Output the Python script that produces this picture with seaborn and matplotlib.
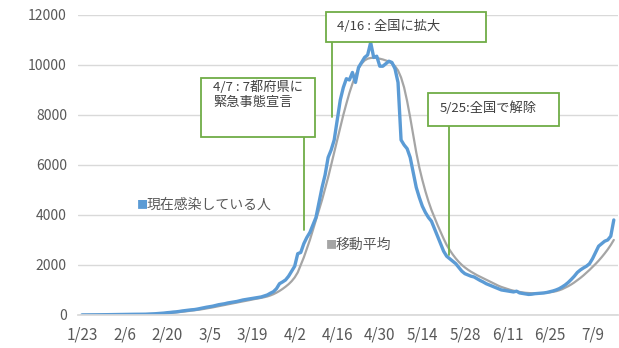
import numpy as np
import pandas as pd
import matplotlib.pyplot as plt
import seaborn as sns
from matplotlib.patches import Rectangle

# ==============================
# Data (daily from 1/23)
# ==============================
active = [
    1, 1, 2, 3, 4, 5, 7, 8, 11, 12, 14, 15, 17, 20,
    22, 23, 24, 26, 26, 27, 28, 30, 35, 40, 47, 55, 64, 75,
    90, 100, 115, 125, 140, 160, 175, 190, 205, 215, 235, 260, 285, 310,
    330, 350, 380, 410, 430, 450, 480, 500, 520, 540, 570, 600, 620, 640,
    660, 680, 700, 720, 760, 800, 870, 930, 1050, 1250, 1320, 1400, 1550, 1750,
    1950, 2450, 2500, 2850, 3100, 3300, 3600, 3900, 4500, 5100, 5600, 6300, 6600, 7000,
    7800, 8600, 9100, 9450, 9400, 9700, 9300, 9900, 10100, 10300, 10400, 10900, 10300, 10350,
    9950, 9950, 10050, 10150, 10100, 9850, 9300, 7000, 6800, 6650, 6300, 5700, 5100, 4700,
    4350, 4100, 3900, 3750, 3450, 3150, 2850, 2550, 2350, 2250, 2150, 2050, 1900, 1750,
    1650, 1600, 1550, 1520, 1450, 1380, 1320, 1250, 1200, 1150, 1100, 1050, 1000, 980,
    960, 940, 920, 950, 880, 860, 840, 820, 830, 850, 860, 870, 880, 900,
    930, 960, 1000, 1050, 1120, 1200, 1300, 1420, 1550, 1700, 1800, 1880, 1950, 2050,
    2250, 2500, 2750, 2850, 2950, 3000, 3150, 3800,
]
moving_avg = [
    0, 1, 1, 2, 3, 4, 5, 6, 8, 9, 11, 12, 14, 16,
    18, 20, 21, 23, 24, 25, 26, 28, 30, 33, 38, 44, 50, 58,
    67, 77, 88, 100, 112, 126, 140, 155, 170, 185, 200, 218, 238, 258,
    280, 302, 325, 350, 375, 400, 425, 450, 472, 495, 518, 540, 565, 590,
    615, 640, 660, 685, 710, 740, 780, 830, 890, 960, 1040, 1130, 1230, 1350,
    1500, 1700, 2000, 2300, 2650, 3000, 3400, 3800, 4200, 4600, 5050, 5500, 6000, 6500,
    7000, 7500, 8000, 8450, 8880, 9250, 9580, 9850, 10050, 10180, 10250, 10280, 10290, 10280,
    10250, 10220, 10180, 10130, 10060, 9950, 9780, 9500, 9100, 8550, 7900, 7200, 6500, 5900,
    5400, 4950, 4550, 4200, 3900, 3600, 3320, 3050, 2800, 2600, 2420, 2260, 2120, 2000,
    1900, 1810, 1730, 1660, 1590, 1530, 1470, 1410, 1350, 1290, 1230, 1170, 1120, 1080,
    1040, 1000, 970, 940, 920, 900, 885, 875, 868, 865, 865, 870, 878, 890,
    905, 925, 950, 985, 1030, 1090, 1150, 1220, 1300, 1390, 1480, 1580, 1690, 1800,
    1920, 2040, 2170, 2310, 2460, 2620, 2800, 3000,
]
tick_labels = ["1/23", "2/6", "2/20", "3/5", "3/19", "4/2", "4/16",
               "4/30", "5/14", "5/28", "6/11", "6/25", "7/9"]
y_ticks = [0, 2000, 4000, 6000, 8000, 10000, 12000]
series_names = ["現在感染している人", "移動平均"]
events = ["4/7 : 7都府県に\n緊急事態宣言", "4/16 : 全国に拡大", "5/25:全国で解除"]

dates = pd.date_range("2020-01-23", periods=len(active))
df = pd.DataFrame({"day": np.arange(len(active)),
                   "label": [f"{d.month}/{d.day}" for d in dates],
                   "active": active,
                   "avg": moving_avg})

# ==============================
# Style
# ==============================
sns.set_theme(style="white")
plt.rcParams['font.family'] = ['Noto Sans CJK JP', 'DejaVu Sans']

BLUE = "#5B9BD5"
GRAY = "#A5A5A5"
GREEN = "#70AD47"
TXT = "#595959"

fig = plt.figure(figsize=(6.19, 3.48), dpi=100)
ax = fig.add_axes([0.126, 0.095, 0.872, 0.862])

sns.lineplot(data=df, x="day", y="avg", color=GRAY, linewidth=1.6, ax=ax)
sns.lineplot(data=df, x="day", y="active", color=BLUE, linewidth=2.4, ax=ax)

ax.set_xlim(-1.3, 176.3)
ax.set_ylim(0, 12000)
ax.set_yticks(y_ticks)
ax.set_yticklabels([str(v) for v in y_ticks], fontsize=10, color=TXT)
tick_pos = [df.index[df["label"] == t][0] for t in tick_labels]
ax.set_xticks(tick_pos)
ax.set_xticklabels(tick_labels, fontsize=11, color=TXT)
ax.tick_params(length=0, pad=8)
ax.set_xlabel("")
ax.set_ylabel("")
ax.grid(axis="y", color="#D9D9D9", linewidth=1)
for s in ["top", "right", "left"]:
    ax.spines[s].set_visible(False)
ax.spines["bottom"].set_color("#D9D9D9")

# ==============================
# Legend labels placed on the plot
# ==============================
ax.text(18.1, 4400, "■", color=BLUE, fontsize=8, va="center")
ax.text(21.4, 4400, series_names[0], color=TXT, fontsize=10, va="center")
ax.text(80.3, 2800, "■", color=GRAY, fontsize=8, va="center")
ax.text(83.6, 2800, series_names[1], color=TXT, fontsize=10, va="center")

# ==============================
# Callout boxes
# ==============================
# (box x0, x1, y0, y1, line x, line bottom, text x, text y)
boxes = [
    (39.1, 76.6, 7120, 9480, 73.0, 3400, 43.1, 9350),
    (80.3, 132.9, 10920, 12120, 82.2, 7920, 83.9, 11520),
    (113.8, 156.9, 7560, 8880, 120.7, 2400, 117.8, 8280),
]
for i, (x0, x1, y0, y1, lx, ly, tx, ty) in enumerate(boxes):
    ax.add_patch(Rectangle((x0, y0), x1 - x0, y1 - y0, facecolor="white",
                           edgecolor=GREEN, linewidth=1.3, clip_on=False, zorder=5))
    ax.plot([lx, lx], [y0, ly], color=GREEN, linewidth=1.3, zorder=4)
    ax.text(tx, ty, events[i], fontsize=9.5, color="#404040", zorder=6,
            va="top" if i == 0 else "center", linespacing=1.2)

fig.savefig("out.png", dpi=100)
